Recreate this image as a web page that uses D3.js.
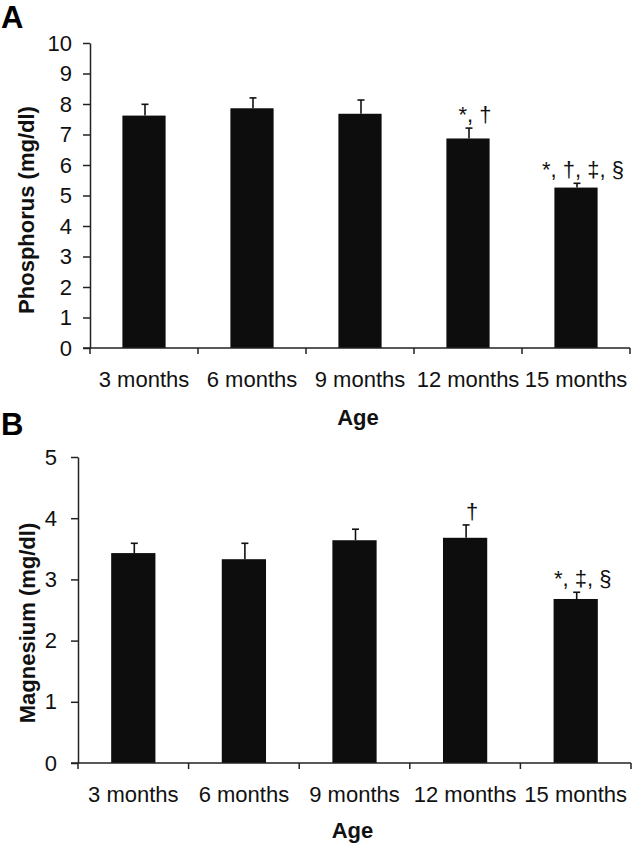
<!DOCTYPE html>
<html><head><meta charset="utf-8">
<script src="https://cdn.jsdelivr.net/npm/d3@7"></script>
<style>body{margin:0;background:#fff} svg{display:block}</style>
</head><body>
<svg id="chart" width="632" height="848"></svg>
<script>
// ---- data ----
const categories = ["3 months", "6 months", "9 months", "12 months", "15 months"];
const phosphorusMean = [7.62, 7.86, 7.68, 6.87, 5.26];
const phosphorusSE = [0.37, 0.34, 0.45, 0.34, 0.14];
const phosphorusMarks = ["", "", "", "*, †", "*, †, ‡, §"];
const phosphorusTicks = [0, 1, 2, 3, 4, 5, 6, 7, 8, 9, 10];
const magnesiumMean = [3.43, 3.33, 3.64, 3.68, 2.68];
const magnesiumSE = [0.16, 0.26, 0.18, 0.21, 0.11];
const magnesiumMarks = ["", "", "", "†", "*, ‡, §"];
const magnesiumTicks = [0, 1, 2, 3, 4, 5];
const xTitle = "Age";

const FONT = "'Liberation Sans', Arial, sans-serif";
const FS = 22;
const svg = d3.select("#chart");

function drawPanel(cfg) {
  const g = svg.append("g");
  const x = d3.scaleBand().domain(categories).range([cfg.x0, cfg.x1])
    .paddingInner(0.6).paddingOuter(0.3);
  const y = d3.scaleLinear().domain([0, d3.max(cfg.ticks)]).range([cfg.yBottom, cfg.yTop]);
  const rows = categories.map((c, i) => ({c, m: cfg.mean[i], e: cfg.se[i], t: cfg.marks[i]}));
  const cx = d => x(d.c) + x.bandwidth() / 2;

  // panel letter
  g.append("text").attr("x", cfg.letterX).attr("y", cfg.letterY)
    .attr("font-family", FONT).attr("font-weight", "bold").attr("font-size", 31)
    .attr("fill", "#000").text(cfg.letter);

  // bars
  g.selectAll("rect.bar").data(rows).join("rect")
    .attr("x", d => x(d.c)).attr("width", x.bandwidth())
    .attr("y", d => y(d.m)).attr("height", d => y(0) - y(d.m))
    .attr("fill", "#0d0d0d");

  // error bars
  const cap = 3.5;
  g.selectAll("line.err").data(rows).join("line")
    .attr("x1", d => cx(d) + 1).attr("x2", d => cx(d) + 1)
    .attr("y1", d => y(d.m)).attr("y2", d => y(d.m + d.e))
    .attr("stroke", "#111").attr("stroke-width", 1.6);
  g.selectAll("line.cap").data(rows).join("line")
    .attr("x1", d => cx(d) + 1 - cap).attr("x2", d => cx(d) + 1 + cap)
    .attr("y1", d => y(d.m + d.e)).attr("y2", d => y(d.m + d.e))
    .attr("stroke", "#111").attr("stroke-width", 1.6);

  // significance marks
  g.selectAll("text.mark").data(rows.filter(d => d.t)).join("text")
    .attr("x", d => cx(d) + 7)
    .attr("y", d => y(d.m + d.e) - 6)
    .attr("text-anchor", "middle")
    .attr("font-family", FONT).attr("font-size", FS).attr("fill", "#111")
    .text(d => d.t);

  // y axis
  const yAxis = d3.axisLeft(y).tickValues(cfg.ticks).tickFormat(d3.format("d"))
    .tickSizeInner(7).tickSizeOuter(0).tickPadding(cfg.yPad);
  const ya = g.append("g").attr("transform", `translate(${cfg.x0},0)`).call(yAxis);
  ya.selectAll("path, line").attr("stroke", "#222").attr("stroke-width", 1.5);
  ya.selectAll("text").attr("font-family", FONT).attr("font-size", FS).attr("fill", "#111");

  // x axis line + boundary ticks
  const bounds = d3.range(categories.length + 1).map(i => cfg.x0 + i * x.step());
  g.append("line").attr("x1", cfg.x0 - 7).attr("x2", cfg.x1)
    .attr("y1", y(0)).attr("y2", y(0)).attr("stroke", "#222").attr("stroke-width", 1.5);
  g.selectAll("line.btick").data(bounds).join("line")
    .attr("x1", d => d).attr("x2", d => d).attr("y1", y(0)).attr("y2", y(0) + 6)
    .attr("stroke", "#222").attr("stroke-width", 1.5);

  // x labels
  const xAxis = d3.axisBottom(x).tickSize(0).tickPadding(23);
  const xa = g.append("g").attr("transform", `translate(0,${y(0)})`).call(xAxis);
  xa.select(".domain").remove();
  xa.selectAll("text").attr("font-family", FONT).attr("font-size", FS).attr("fill", "#111");

  // x title
  g.append("text").attr("x", (cfg.x0 + cfg.x1) / 2 - 2).attr("y", cfg.xTitleY)
    .attr("text-anchor", "middle").attr("font-family", FONT).attr("font-weight", "bold")
    .attr("font-size", FS).attr("fill", "#111").text(xTitle);

  // y title
  g.append("text").attr("transform", `translate(${cfg.yTitleX},${cfg.yTitleY}) rotate(-90)`)
    .attr("text-anchor", "middle").attr("font-family", FONT).attr("font-weight", "bold")
    .attr("font-size", FS).attr("fill", "#111").text(cfg.yTitle);
}

drawPanel({
  letter: "A", letterX: 1, letterY: 28,
  x0: 90, x1: 630, yTop: 43, yBottom: 348, yPad: 11,
  ticks: phosphorusTicks, mean: phosphorusMean, se: phosphorusSE, marks: phosphorusMarks,
  xTitleY: 425, yTitle: "Phosphorus (mg/dl)", yTitleX: 34, yTitleY: 210
});
drawPanel({
  letter: "B", letterX: 1, letterY: 435,
  x0: 78, x1: 631, yTop: 457, yBottom: 763, yPad: 14,
  ticks: magnesiumTicks, mean: magnesiumMean, se: magnesiumSE, marks: magnesiumMarks,
  xTitleY: 838, yTitle: "Magnesium (mg/dl)", yTitleX: 35, yTitleY: 623
});
</script>
</body></html>
